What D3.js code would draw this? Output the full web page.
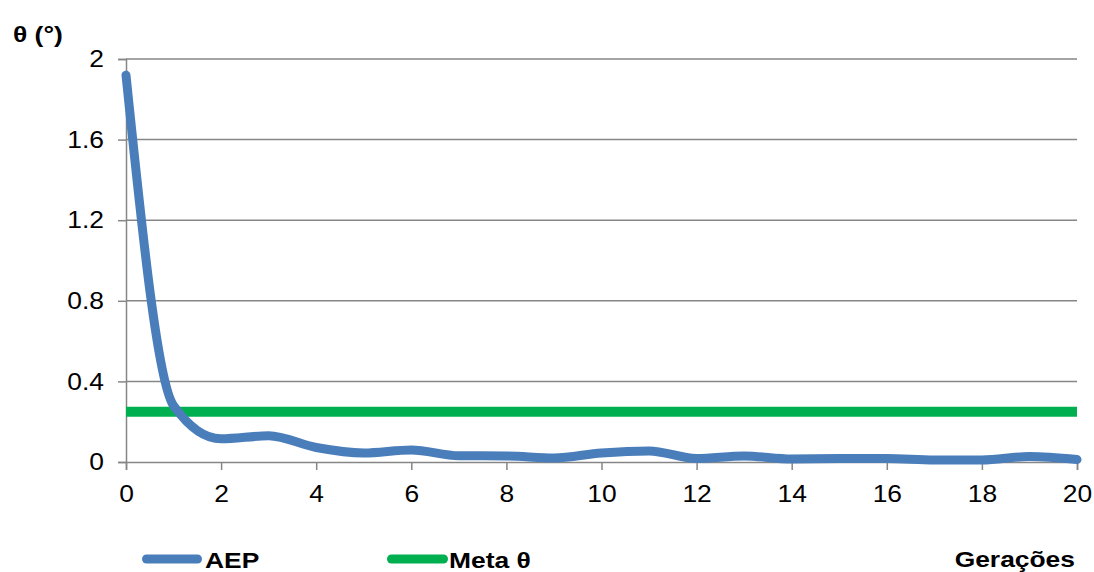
<!DOCTYPE html>
<html>
<head>
<meta charset="utf-8">
<script src="https://cdn.jsdelivr.net/npm/d3@7"></script>
<style>
  html, body { margin: 0; padding: 0; background: #fff; }
  svg { display: block; font-family: "Liberation Sans", Arial, sans-serif; }
</style>
</head>
<body>
<svg id="chart" width="1094" height="572"></svg>
<script>
// Generations and the AEP angle error (degrees) per generation
const generations = [0, 1, 2, 3, 4, 5, 6, 7, 8, 9, 10, 11, 12, 13, 14, 15, 16, 17, 18, 19, 20];
const aep = [1.92, 0.28, 0.115, 0.13, 0.072, 0.045, 0.06, 0.031, 0.03, 0.02, 0.045, 0.055, 0.017, 0.03, 0.015, 0.017, 0.017, 0.01, 0.01, 0.027, 0.012];
// Target angle
const metaTheta = 0.25;
const yTicks = [0, 0.4, 0.8, 1.2, 1.6, 2];
const xTicks = [0, 2, 4, 6, 8, 10, 12, 14, 16, 18, 20];

const svg = d3.select("#chart");
const x = d3.scaleLinear().domain([0, 20]).range([126, 1077]);
const y = d3.scaleLinear().domain([0, 2]).range([462, 59]);
const gridColor = "#868686";

// Widen text horizontally by a factor, keeping its anchor
function widen(sel, f) {
  sel.each(function () {
    const len = this.getComputedTextLength();
    d3.select(this).attr("textLength", len * f).attr("lengthAdjust", "spacingAndGlyphs");
  });
}

// Horizontal gridlines
svg.append("g").selectAll("line").data(yTicks.filter(d => d > 0)).join("line")
  .attr("x1", x(0)).attr("x2", x(20))
  .attr("y1", d => y(d)).attr("y2", d => y(d))
  .attr("stroke", gridColor).attr("stroke-width", 1.5);

// Y axis
const yAxis = svg.append("g").attr("transform", `translate(${x(0)},0)`)
  .call(d3.axisLeft(y).tickValues(yTicks).tickSize(8).tickPadding(14).tickFormat(d => String(d)));
// X axis
const xAxis = svg.append("g").attr("transform", `translate(0,${y(0)})`)
  .call(d3.axisBottom(x).tickValues(xTicks).tickSize(8).tickPadding(15).tickFormat(d => String(d)));

[yAxis, xAxis].forEach(g => {
  g.select(".domain").attr("stroke", gridColor).attr("stroke-width", 1.5);
  g.selectAll(".tick line").attr("stroke", gridColor).attr("stroke-width", 1.5);
  g.selectAll(".tick text").attr("fill", "#000").style("font-size", "24px")
    .style("font-family", "'Liberation Sans', Arial, sans-serif")
    .call(widen, 1.1);
});

// Target line
svg.append("line")
  .attr("x1", x(0)).attr("x2", x(20))
  .attr("y1", y(metaTheta)).attr("y2", y(metaTheta))
  .attr("stroke", "#00b050").attr("stroke-width", 10);

// AEP curve
const line = d3.line()
  .x((d, i) => x(generations[i]))
  .y(d => y(d))
  .curve(d3.curveMonotoneX);
svg.append("path").datum(aep)
  .attr("d", line)
  .attr("fill", "none")
  .attr("stroke", "#4a7ebb").attr("stroke-width", 9)
  .attr("stroke-linecap", "round").attr("stroke-linejoin", "round");

// Axis titles
svg.append("text").attr("x", 13).attr("y", 42)
  .style("font-size", "22px").style("font-weight", "bold").text("θ (°)")
  .call(widen, 1.2);
svg.append("text").attr("x", 1075).attr("y", 567).attr("text-anchor", "end")
  .style("font-size", "22px").style("font-weight", "bold").text("Gerações")
  .call(widen, 1.2);

// Legend
const legend = [
  { label: "AEP", color: "#4a7ebb", x0: 146.5, x1: 197.5, tx: 205 },
  { label: "Meta θ", color: "#00b050", x0: 391.5, x1: 443.5, tx: 449 }
];
legend.forEach(l => {
  svg.append("line").attr("x1", l.x0).attr("x2", l.x1).attr("y1", 559).attr("y2", 559)
    .attr("stroke", l.color).attr("stroke-width", 9).attr("stroke-linecap", "round");
  svg.append("text").attr("x", l.tx).attr("y", 568)
    .style("font-size", "22px").style("font-weight", "bold").text(l.label)
    .call(widen, 1.2);
});
</script>
</body>
</html>
